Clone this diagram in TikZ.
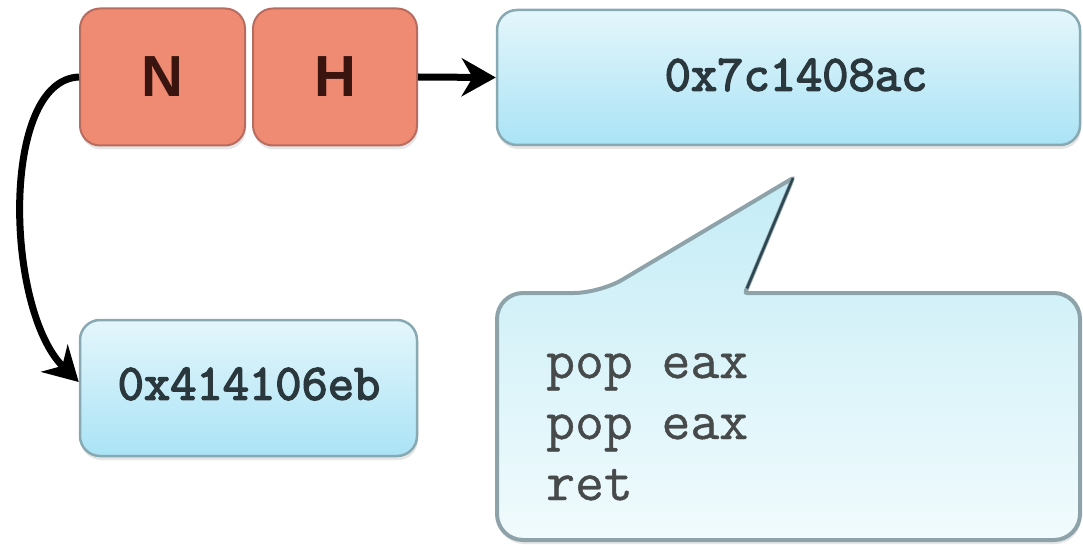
\documentclass[tikz,border=0pt]{standalone}
\usepackage{fontspec}
\setsansfont{Liberation Sans}
\newfontfamily\addrfont{Latin Modern Mono}[FakeBold=3]
\newfontfamily\codefont{Latin Modern Mono}[FakeBold=0.8]
\usetikzlibrary{arrows.meta,shadows,calc}

\definecolor{redfill}{HTML}{EF8A73}
\definecolor{redline}{HTML}{B86C60}
\definecolor{lettercol}{HTML}{3A1510}
\definecolor{bluetop}{HTML}{E4F6FB}
\definecolor{bluebot}{HTML}{AAE3F6}
\definecolor{blueline}{HTML}{88A9B2}
\definecolor{addrcol}{HTML}{2A373C}
\definecolor{calltop}{HTML}{C4ECF6}
\definecolor{callbot}{HTML}{F1FBFD}
\definecolor{callline}{HTML}{8EA2A9}
\definecolor{calledge}{HTML}{2D4650}
\definecolor{codecol}{HTML}{474A4B}

\begin{document}
\begin{tikzpicture}[x=1pt,y=-1pt,
  redbox/.style={draw=redline, line width=2pt, fill=redfill, rounded corners=20pt,
    minimum width=165pt, minimum height=137pt, inner sep=0pt,
    font=\sffamily\bfseries\fontsize{58}{58}\selectfont, text=lettercol,
    drop shadow={shadow xshift=1pt, shadow yshift=-4pt, opacity=.2}},
  addrbox/.style={draw=blueline, line width=2.5pt, top color=bluetop, bottom color=bluebot,
    rounded corners=20pt, inner sep=0pt,
    drop shadow={shadow xshift=1pt, shadow yshift=-4pt, opacity=.2}},
  addrtext/.style={font=\addrfont\fontsize{51}{51}\selectfont, text=addrcol, inner sep=0pt},
  link/.style={line width=7pt, -{Stealth[length=34pt,width=38pt,inset=11pt]}},
  bubble/.style={draw=callline, line width=4pt, top color=calltop, bottom color=callbot,
    drop shadow={shadow xshift=1pt, shadow yshift=-4pt, opacity=.2}}
]
\useasboundingbox (0,0) rectangle (1083,545);

% the two header cells
\node[redbox] (N) at (162.5,77) {N};
\node[redbox, minimum width=164pt] (H) at (335,77) {H};

% address boxes and their labels
\node[addrbox, minimum width=583pt, minimum height=135pt] (top) at (788.5,77.5) {};
\node[addrtext] (topaddr) at (796,75) {0x7c1408ac};
\node[addrbox, minimum width=337pt, minimum height=136pt] (low) at (248.5,388) {};
\node[addrtext] (lowaddr) at (249,384) {0x414106eb};

% speech bubble holding the gadget
\coordinate (tip) at (793,178);
\coordinate (bl) at (600,293);
\coordinate (br) at (745,293);
\draw[bubble] (497,420) [rounded corners=26pt] -- (497,293) -- (bl)
  [rounded corners=2pt] -- (tip) -- (br)
  [rounded corners=26pt] -- (1080,293) -- (1080,540) -- (497,540) -- cycle;
\draw[calledge, line width=2.5pt] (tip) -- ($(tip)!0.96!(br)$);
\node[anchor=base west, align=left, inner sep=0pt, text=codecol,
  font=\codefont\fontsize{56}{61}\selectfont] (code) at (546,500)
  {pop eax\\pop eax\\ret};

% connectors
\draw[link] (H.east) -- (top.west);
\draw[link] (N.west) .. controls (0,80) and (5,310) .. ($(low.west)+(0,-6)$);
\end{tikzpicture}
\end{document}
